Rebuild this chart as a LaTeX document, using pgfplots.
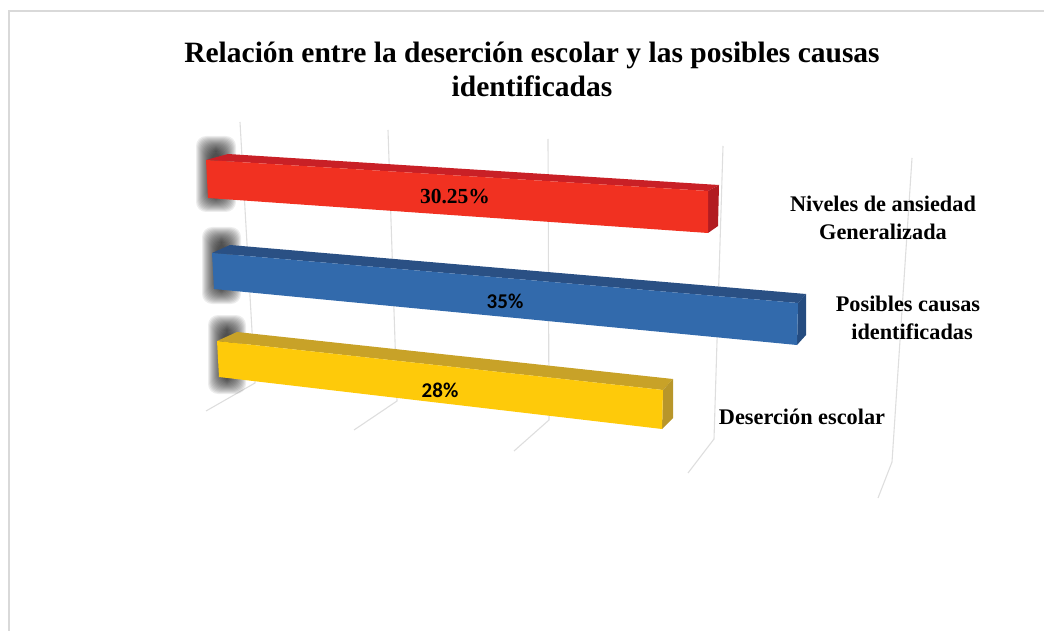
\documentclass[border=0pt]{standalone}
\usepackage{pgfplots}
\pgfplotsset{compat=1.18}
\usepackage{fontspec}
\setmainfont{Liberation Serif}
\newfontfamily\cali{Carlito}
\definecolor{framec}{RGB}{217,217,217}
\definecolor{gridc}{RGB}{222,222,222}
\definecolor{redF}{RGB}{241,49,33}
\definecolor{redT}{RGB}{201,32,38}
\definecolor{redS}{RGB}{178,28,34}
\definecolor{bluF}{RGB}{50,106,172}
\definecolor{bluT}{RGB}{42,80,132}
\definecolor{bluS}{RGB}{37,76,128}
\definecolor{yelF}{RGB}{254,202,10}
\definecolor{yelT}{RGB}{200,162,40}
\definecolor{yelS}{RGB}{184,150,42}
\begin{document}
\begin{tikzpicture}
\path[use as bounding box] (0,0) rectangle (1044pt,631pt);
\begin{axis}[
  at={(0,0)}, anchor=south west,
  width=1044pt, height=631pt, scale only axis,
  xmin=0, xmax=1044, ymin=0, ymax=631, y dir=reverse,
  hide axis, clip=false,
  gridl/.style={draw=gridc, line width=1.1pt, no marks},
  shad/.style={draw=none, fill=black, fill opacity=0.07, rounded corners=10pt, no marks},
]
% frame
\addplot[draw=framec, line width=2pt, no marks] coordinates {(9,631) (9,11) (1044,11)};
% grid lines at 0, 10, 20, 30, 40 %
\addplot[gridl] coordinates {(240,122) (255,383) (206,411)};
\addplot[gridl] coordinates {(388,130) (397,401) (354,430)};
\addplot[gridl] coordinates {(548,139) (549,420) (514,451)};
\addplot[gridl] coordinates {(723,146) (714,439) (688,473)};
\addplot[gridl] coordinates {(912,158) (892,462) (878,498)};
% blurred shadows at the base of each bar
\foreach \d in {0,1,...,15}{
  \edef\tmp{\noexpand\addplot[shad] coordinates {
    (\the\numexpr196+\d\relax,\the\numexpr136+\d\relax)
    (\the\numexpr236-\d\relax,\the\numexpr136+\d\relax)
    (\the\numexpr236-\d\relax,\the\numexpr212-\d\relax)
    (\the\numexpr196+\d\relax,\the\numexpr212-\d\relax) } --cycle;
  \noexpand\addplot[shad] coordinates {
    (\the\numexpr202+\d\relax,\the\numexpr227+\d\relax)
    (\the\numexpr241-\d\relax,\the\numexpr227+\d\relax)
    (\the\numexpr241-\d\relax,\the\numexpr304-\d\relax)
    (\the\numexpr202+\d\relax,\the\numexpr304-\d\relax) } --cycle;
  \noexpand\addplot[shad] coordinates {
    (\the\numexpr208+\d\relax,\the\numexpr315+\d\relax)
    (\the\numexpr246-\d\relax,\the\numexpr315+\d\relax)
    (\the\numexpr246-\d\relax,\the\numexpr394-\d\relax)
    (\the\numexpr208+\d\relax,\the\numexpr394-\d\relax) } --cycle;}
  \tmp
}
% Niveles de ansiedad Generalizada: 30.25 %
\addplot[draw=none, fill=redT, no marks] coordinates {(206,160) (228,154) (719,185) (708,191)} --cycle;
\addplot[draw=none, fill=redS, no marks] coordinates {(708,191) (719,185) (718,226) (708,233)} --cycle;
\addplot[draw=none, fill=redF, no marks] coordinates {(206,160) (708,191) (708,233) (208,198)} --cycle;
% Posibles causas identificadas: 35 %
\addplot[draw=none, fill=bluT, no marks] coordinates {(212,253) (230,245) (806,294) (798,303)} --cycle;
\addplot[draw=none, fill=bluS, no marks] coordinates {(798,303) (806,294) (806,335) (797,345)} --cycle;
\addplot[draw=none, fill=bluF, no marks] coordinates {(212,253) (798,303) (797,345) (214,289)} --cycle;
% Desercion escolar: 28 %
\addplot[draw=none, fill=yelT, no marks] coordinates {(217,341) (237,332) (673,379) (663,390)} --cycle;
\addplot[draw=none, fill=yelS, no marks] coordinates {(663,390) (673,379) (673,418) (662,429)} --cycle;
\addplot[draw=none, fill=yelF, no marks] coordinates {(217,341) (663,390) (662,429) (219,377)} --cycle;
% text
\node[font=\fontsize{29.5}{34}\selectfont\bfseries, align=center, anchor=center]
  at (axis cs:532,69) {Relación entre la deserción escolar y las posibles causas\\identificadas};
\node[font=\fontsize{22.3}{28}\selectfont\bfseries, align=center, anchor=center]
  at (axis cs:883,218) {Niveles de ansiedad\\Generalizada};
\node[font=\fontsize{22.3}{28}\selectfont\bfseries, align=center, anchor=center]
  at (axis cs:908,318) {Posibles causas\\\hspace*{8pt}identificadas};
\node[font=\fontsize{22.3}{26}\selectfont\bfseries, anchor=center]
  at (axis cs:802,417) {Deserción escolar};
\node[font=\fontsize{21.5}{24}\selectfont\bfseries, anchor=center]
  at (axis cs:455,197) {30.25\%};
\node[font=\fontsize{21}{24}\selectfont\cali\bfseries, anchor=center]
  at (axis cs:505,301) {35\%};
\node[font=\fontsize{21}{24}\selectfont\cali\bfseries, anchor=center]
  at (axis cs:440,390) {28\%};
\end{axis}
\end{tikzpicture}
\end{document}
